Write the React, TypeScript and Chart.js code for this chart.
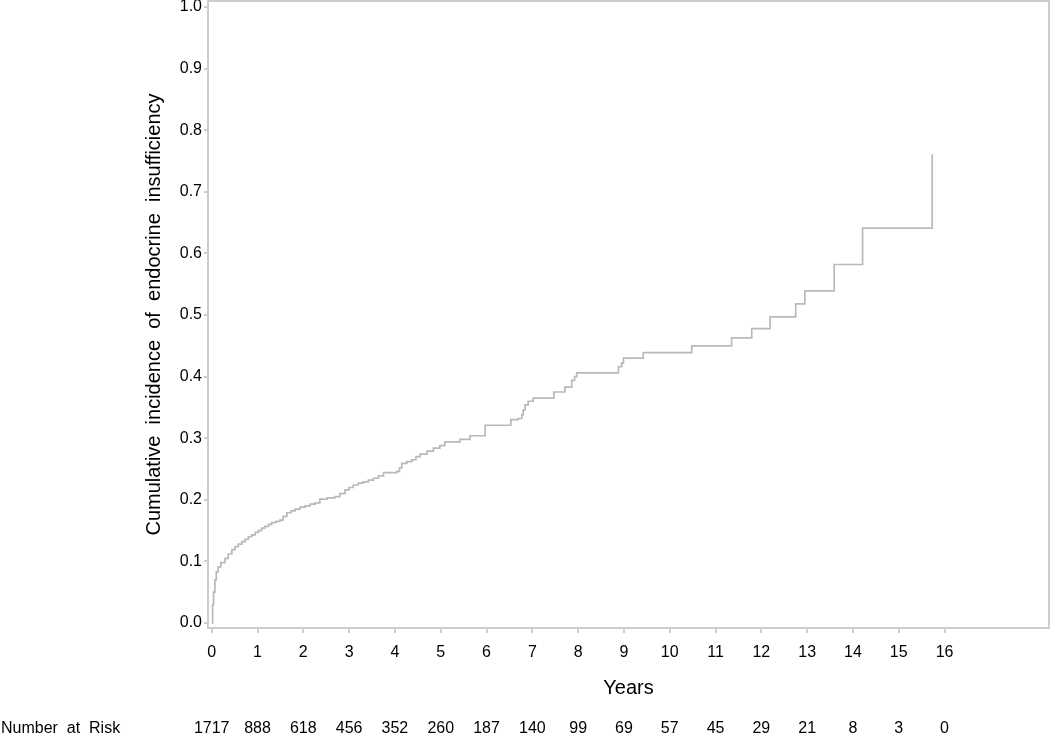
import React, { useEffect, useRef } from "react";
import { Chart, registerables } from "chart.js";

Chart.register(...registerables);

// Step-function curve: time (years) and cumulative incidence
const times: number[] = [
  0, 0.02, 0.04, 0.07, 0.1, 0.14, 0.2, 0.29, 0.36, 0.44, 0.51, 0.58, 0.66, 0.73, 0.8,
  0.87, 0.95, 1.02, 1.09, 1.16, 1.24, 1.31, 1.4, 1.49, 1.56, 1.64, 1.73, 1.82, 1.93,
  2.04, 2.15, 2.26, 2.36, 2.52, 2.69, 2.8, 2.91, 3.0, 3.09, 3.2, 3.31, 3.42, 3.53,
  3.64, 3.75, 4.04, 4.1, 4.15, 4.26, 4.37, 4.46, 4.55, 4.7, 4.84, 4.98, 5.09, 5.42,
  5.64, 5.97, 6.53, 6.69, 6.77, 6.8, 6.84, 6.91, 7.02, 7.47, 7.71, 7.86, 7.92, 7.97,
  8.88, 8.95, 8.99, 9.42, 10.48, 11.35, 11.79, 12.19, 12.75, 12.95, 13.59, 14.21,
  15.73,
];
const incidence: number[] = [
  0, 0.03, 0.05, 0.07, 0.083, 0.091, 0.098, 0.105, 0.112, 0.119, 0.124, 0.128, 0.132,
  0.136, 0.14, 0.143, 0.147, 0.15, 0.154, 0.157, 0.16, 0.163, 0.165, 0.167, 0.173,
  0.179, 0.182, 0.185, 0.188, 0.19, 0.193, 0.195, 0.201, 0.203, 0.205, 0.21, 0.216,
  0.22, 0.224, 0.227, 0.229, 0.232, 0.235, 0.239, 0.244, 0.246, 0.252, 0.259, 0.262,
  0.265, 0.27, 0.274, 0.279, 0.284, 0.288, 0.294, 0.298, 0.304, 0.321, 0.33, 0.332,
  0.338, 0.346, 0.354, 0.36, 0.365, 0.375, 0.383, 0.394, 0.4, 0.406, 0.416, 0.422,
  0.43, 0.439, 0.45, 0.463, 0.478, 0.497, 0.518, 0.539, 0.582, 0.641, 0.761,
];

// Axis ticks
const xTicks: number[] = [0, 1, 2, 3, 4, 5, 6, 7, 8, 9, 10, 11, 12, 13, 14, 15, 16];
const yTicks: number[] = [0, 0.1, 0.2, 0.3, 0.4, 0.5, 0.6, 0.7, 0.8, 0.9, 1.0];

// Number at risk
const riskLabel = "Number  at  Risk";
const riskYears: number[] = [0, 1, 2, 3, 4, 5, 6, 7, 8, 9, 10, 11, 12, 13, 14, 15, 16];
const atRisk: number[] = [1717, 888, 618, 456, 352, 260, 187, 140, 99, 69, 57, 45, 29, 21, 8, 3, 0];

const xTitle = "Years";
const yTitle = "Cumulative  incidence  of  endocrine  insufficiency";

const FONT = '"Liberation Sans", Arial, Helvetica, sans-serif';
const FRAME = "#cdcdcd";
const LINE = "#b9b9b9";

const riskPlugin = {
  id: "riskTable",
  beforeDatasetsDraw(chart: any) {
    const { ctx, chartArea } = chart;
    ctx.save();
    ctx.strokeStyle = FRAME;
    ctx.lineWidth = 2;
    ctx.strokeRect(
      chartArea.left,
      chartArea.top,
      chartArea.right - chartArea.left,
      chartArea.bottom - chartArea.top
    );
    ctx.restore();
  },
  afterDraw(chart: any) {
    const { ctx, scales } = chart;
    ctx.save();
    ctx.font = `16px ${FONT}`;
    ctx.fillStyle = "#000";
    ctx.textBaseline = "middle";
    ctx.textAlign = "left";
    ctx.fillText(riskLabel, 1, 729);
    ctx.textAlign = "center";
    riskYears.forEach((yr, i) => {
      ctx.fillText(String(atRisk[i]), scales.x.getPixelForValue(yr), 729);
    });
    ctx.restore();
  },
};

export default function App() {
  const ref = useRef<HTMLCanvasElement | null>(null);

  useEffect(() => {
    if (!ref.current) return;
    const data = times.map((t, i) => ({ x: t, y: incidence[i] }));
    const chart = new Chart(ref.current, {
      type: "line",
      data: {
        datasets: [
          {
            data,
            stepped: "before",
            borderColor: LINE,
            borderWidth: 1.7,
            pointRadius: 0,
            fill: false,
          },
        ],
      },
      options: {
        animation: false,
        responsive: true,
        maintainAspectRatio: false,
        layout: { padding: { left: 0, right: 1, top: 1, bottom: 0 } },
        plugins: { legend: { display: false }, tooltip: { enabled: false } },
        scales: {
          x: {
            type: "linear",
            min: -0.081,
            max: 18.28,
            afterBuildTicks: (s: any) => {
              s.ticks = xTicks.map((value) => ({ value }));
            },
            afterFit: (s: any) => {
              s.height = 108;
              s.paddingLeft = 0;
              s.paddingRight = 0;
            },
            grid: {
              display: true,
              drawOnChartArea: false,
              drawTicks: true,
              tickLength: 5,
              color: FRAME,
              lineWidth: 2,
            },
            border: { display: true, color: FRAME, width: 2 },
            ticks: {
              color: "#000",
              font: { family: FONT, size: 16 },
              padding: 10,
              maxRotation: 0,
              autoSkip: false,
              callback: (v: any) => String(v),
            },
            title: {
              display: true,
              text: xTitle,
              color: "#000",
              font: { family: FONT, size: 20 },
              padding: { top: 0, bottom: 36 },
            },
          },
          y: {
            type: "linear",
            min: -0.0081,
            max: 1.0097,
            afterBuildTicks: (s: any) => {
              s.ticks = yTicks.map((value) => ({ value }));
            },
            afterFit: (s: any) => {
              s.width = 208;
              s.paddingTop = 0;
              s.paddingBottom = 0;
            },
            grid: {
              display: true,
              drawOnChartArea: false,
              drawTicks: true,
              tickLength: 4,
              color: FRAME,
              lineWidth: 2,
            },
            border: { display: true, color: FRAME, width: 2 },
            ticks: {
              color: "#000",
              font: { family: FONT, size: 16 },
              padding: 2,
              autoSkip: false,
              callback: (v: any) => Number(v).toFixed(1),
            },
            title: {
              display: true,
              text: yTitle,
              color: "#000",
              font: { family: FONT, size: 20 },
              padding: { top: 142, bottom: 0 },
            },
          },
        },
      },
      plugins: [riskPlugin],
    });
    return () => chart.destroy();
  }, []);

  return (
    <div style={{ position: "absolute", left: 0, top: 0, width: 1050, height: 736 }}>
      <canvas ref={ref} />
    </div>
  );
}
